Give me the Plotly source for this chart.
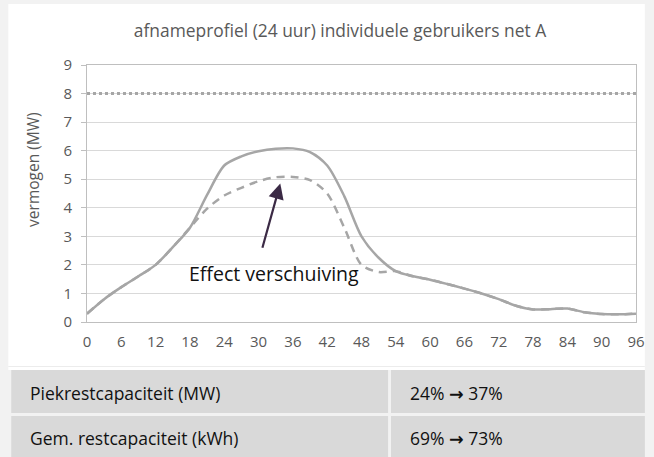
import plotly.graph_objects as go

# ---- data ----
quarter = [0, 3, 6, 9, 12, 15, 18, 21, 24, 27, 30, 33, 36, 39, 42, 45, 48,
           51, 54, 57, 60, 63, 66, 69, 72, 75, 78, 81, 84, 87, 90, 93, 96]
profiel_orig = [0.29, 0.80, 1.22, 1.60, 2.00, 2.62, 3.30, 4.45, 5.48, 5.80, 5.98,
                6.07, 6.08, 5.95, 5.48, 4.40, 3.00, 2.25, 1.78, 1.60, 1.48, 1.33,
                1.17, 1.00, 0.80, 0.57, 0.44, 0.45, 0.47, 0.34, 0.28, 0.27, 0.29]
profiel_shift = [0.29, 0.80, 1.22, 1.60, 2.00, 2.62, 3.30, 3.97, 4.43, 4.70, 4.93,
                 5.07, 5.08, 4.97, 4.50, 3.30, 2.00, 1.75, 1.78, 1.60, 1.48, 1.33,
                 1.17, 1.00, 0.80, 0.57, 0.44, 0.45, 0.47, 0.34, 0.28, 0.27, 0.29]
cap_x = [0, 96]
cap_y = [8, 8]
x_ticks = list(range(0, 97, 6))
y_ticks = list(range(0, 10))

title = "afnameprofiel (24 uur) individuele gebruikers net A"
y_title = "vermogen (MW)"
note = "Effect verschuiving"
arrow_tail = (30.6, 2.55)
arrow_tip = (33.8, 4.85)
table_labels = ["Piekrestcapaciteit (MW)", "Gem. restcapaciteit (kWh)"]
table_from = ["24%", "69%"]
table_to = ["37%", "73%"]

# ---- layout helpers (pixel -> paper) ----
W, H = 654, 457
L, R, T, B = 87, 9, 65, 135
PW, PH = W - L - R, H - T - B


def px(x):
    return (x - L) / PW


def py(y):
    return (H - B - y) / PH


FONT = "Open Sans"
GRAY = "#a6a6a6"
TXT = "#595959"
ARROW = '<span style="font-family:DejaVu Sans;font-weight:bold">\u2192</span>'

fig = go.Figure()
fig.add_trace(go.Scatter(x=cap_x, y=cap_y, mode="lines",
                         line=dict(color=GRAY, width=3, dash="dot"),
                         hoverinfo="skip", showlegend=False))
fig.add_trace(go.Scatter(x=quarter, y=profiel_shift, mode="lines",
                         line=dict(color=GRAY, width=2.5, dash="8px,6px", shape="spline", smoothing=0.8),
                         showlegend=False))
fig.add_trace(go.Scatter(x=quarter, y=profiel_orig, mode="lines",
                         line=dict(color=GRAY, width=2.5, shape="spline", smoothing=0.8),
                         showlegend=False))

shapes = [
    dict(type="rect", xref="paper", yref="paper", x0=px(7), x1=px(W), y0=py(4), y1=py(370),
         fillcolor="white", line=dict(width=0), layer="below"),
    dict(type="line", xref="paper", yref="paper", x0=px(7), x1=px(W), y0=py(366.5), y1=py(366.5),
         line=dict(color="#ececec", width=1), layer="below"),
]
rows = [(370, 413), (416, H)]
cols = [(10, 393), (396, W)]
for (y0, y1) in rows:
    for (x0, x1) in cols:
        shapes.append(dict(type="rect", xref="paper", yref="paper", x0=px(x0), x1=px(x1),
                           y0=py(y0), y1=py(y1), fillcolor="#d9d9d9",
                           line=dict(width=0), layer="below"))

annotations = [
    dict(x=px(32), y=py(169), xref="paper", yref="paper", text=y_title, textangle=-90,
         xanchor="center", yanchor="middle", showarrow=False,
         font=dict(family=FONT, size=15.5, color=TXT)),
    dict(x=arrow_tip[0], y=arrow_tip[1], ax=arrow_tail[0], ay=arrow_tail[1],
         xref="x", yref="y", axref="x", ayref="y", text="", showarrow=True,
         arrowhead=2, arrowsize=1.4, arrowwidth=2.2, arrowcolor="#3b2a45"),
    dict(x=17.4, y=1.71, xref="x", yref="y", text=note, showarrow=False,
         xanchor="left", yanchor="middle",
         font=dict(family=FONT, size=19.5, color="#111111")),
]
for (y0, y1), lab, a, b in zip(rows, table_labels, table_from, table_to):
    yc = py((y0 + y1) / 2 + 1)
    annotations.append(dict(x=px(27), y=yc, xref="paper", yref="paper", text=lab,
                            xanchor="left", yanchor="middle", showarrow=False,
                            font=dict(family=FONT, size=17.5, color="#111111")))
    annotations.append(dict(x=px(413), y=yc, xref="paper", yref="paper",
                            text=f"{a} {ARROW} {b}",
                            xanchor="left", yanchor="middle", showarrow=False,
                            font=dict(family=FONT, size=17.5, color="#111111")))

fig.update_layout(
    width=W, height=H,
    margin=dict(l=L, r=R, t=T, b=B, pad=0),
    paper_bgcolor="#f2f2f2", plot_bgcolor="white",
    title=dict(text=title, x=340 / W, xanchor="center", y=1 - 31 / H, yanchor="middle",
               font=dict(family=FONT, size=17.4, color=TXT)),
    xaxis=dict(range=[0, 96], tickvals=x_ticks, ticks="", showgrid=False, zeroline=False,
               showline=True, linecolor="#bfbfbf", linewidth=1, mirror=True,
               tickfont=dict(family=FONT, size=15, color=TXT), ticklabelstandoff=6),
    yaxis=dict(range=[0, 9], tickvals=y_ticks, ticks="outside", ticklen=5, tickcolor="#bfbfbf",
               showgrid=True, gridcolor="#d9d9d9", gridwidth=1, zeroline=False,
               showline=True, linecolor="#bfbfbf", linewidth=1, mirror=True,
               tickfont=dict(family=FONT, size=15, color=TXT), ticklabelstandoff=6),
    shapes=shapes, annotations=annotations,
)

fig.write_html("out.html")
